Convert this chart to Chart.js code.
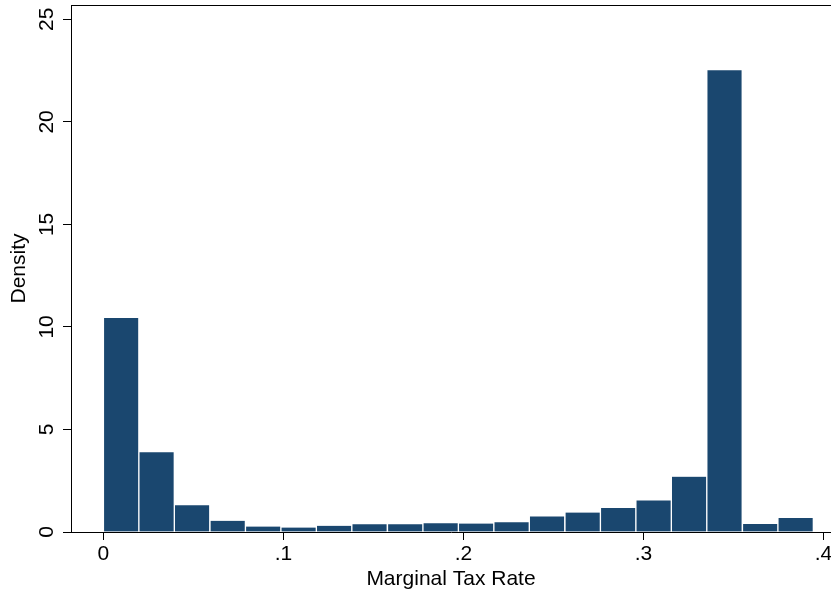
<!DOCTYPE html>
<html>
<head>
<meta charset="utf-8">
<script src="https://cdn.jsdelivr.net/npm/chart.js@4"></script>
<style>
    html, body { margin: 0; padding: 0; background: #fff; }
    #wrap { width: 831px; height: 592px; position: relative; }
</style>
</head>
<body>
<div id="wrap"><canvas id="histChart"></canvas></div>
<script>
// histogram bins: lower edge of each bin (bin width ~0.0197)
const binEdges = [0, 0.0197, 0.0394, 0.0592, 0.0789, 0.0986, 0.1183, 0.1380, 0.1578, 0.1775,
                  0.1972, 0.2169, 0.2366, 0.2564, 0.2761, 0.2958, 0.3155, 0.3352, 0.3550, 0.3747];
const binWidth = 0.0197;
const density = [10.43, 3.89, 1.30, 0.55, 0.27, 0.22, 0.30, 0.38, 0.38, 0.43,
                 0.41, 0.47, 0.76, 0.95, 1.17, 1.54, 2.70, 22.52, 0.39, 0.68];
const xTicks = [0, 0.1, 0.2, 0.3, 0.4];
const xTickLabels = ['0', '.1', '.2', '.3', '.4'];
const yTicks = [0, 5, 10, 15, 20, 25];

const FONT = "'Liberation Sans', Arial, Helvetica, sans-serif";
const FONT_SIZE = 21;
const NAVY = '#1a476f';

// y tick labels are drawn rotated, like Stata does
const rotatedYLabels = {
    id: 'rotatedYLabels',
    afterDraw(chart) {
        const ctx = chart.ctx;
        const y = chart.scales.y;
        const area = chart.chartArea;
        ctx.save();
        // top frame line of the plot region
        ctx.strokeStyle = '#000';
        ctx.lineWidth = 1;
        ctx.beginPath();
        ctx.moveTo(area.left, area.top + 0.5);
        ctx.lineTo(area.right, area.top + 0.5);
        ctx.stroke();

        ctx.font = FONT_SIZE + 'px ' + FONT;
        ctx.fillStyle = '#000';
        ctx.textAlign = 'center';
        ctx.textBaseline = 'alphabetic';
        y.ticks.forEach(t => {
            const py = y.getPixelForValue(t.value);
            ctx.save();
            ctx.translate(y.right - 18, py);
            ctx.rotate(-Math.PI / 2);
            ctx.fillText(t.label, 0, 0);
            ctx.restore();
        });
        ctx.restore();
    }
};

const ctx = document.getElementById('histChart').getContext('2d');

new Chart(ctx, {
    type: 'bar',
    data: {
        datasets: [{
            label: 'Density',
            data: density.map((d, i) => ({ x: binEdges[i] + binWidth / 2, y: d })),
            backgroundColor: NAVY,
            borderColor: '#ffffff',
            borderWidth: { left: 1, right: 1, top: 0, bottom: 0 },
            borderSkipped: false,
            barPercentage: 1,
            categoryPercentage: 1,
            grouped: false
        }]
    },
    options: {
        responsive: true,
        maintainAspectRatio: false,
        animation: false,
        layout: { padding: { top: 5, right: 0, left: 0, bottom: 0 } },
        plugins: {
            legend: { display: false },
            tooltip: { enabled: false }
        },
        scales: {
            x: {
                type: 'linear',
                min: -0.018,
                max: 0.4042,
                offset: false,
                afterBuildTicks(scale) {
                    scale.ticks = xTicks.map(v => ({ value: v }));
                },
                afterFit(scale) {
                    scale.height = 60;
                    scale.paddingLeft = 0;
                    scale.paddingRight = 0;
                },
                grid: {
                    display: true,
                    offset: false,
                    drawOnChartArea: false,
                    drawTicks: true,
                    tickLength: 8,
                    color: '#000',
                    lineWidth: 1
                },
                border: { display: true, color: '#000', width: 1 },
                ticks: {
                    autoSkip: false,
                    maxRotation: 0,
                    padding: 2,
                    color: '#000',
                    font: { family: FONT, size: FONT_SIZE },
                    callback: (v) => {
                        const i = xTicks.indexOf(v);
                        return i >= 0 ? xTickLabels[i] : '';
                    }
                },
                title: {
                    display: true,
                    text: 'Marginal Tax Rate',
                    color: '#000',
                    font: { family: FONT, size: FONT_SIZE },
                    padding: { top: 0, bottom: 0 }
                }
            },
            y: {
                min: 0,
                max: 25.7,
                afterBuildTicks(scale) {
                    scale.ticks = yTicks.map(v => ({ value: v }));
                },
                afterFit(scale) {
                    scale.width = 71;
                    scale.paddingTop = 0;
                    scale.paddingBottom = 0;
                },
                grid: {
                    display: true,
                    drawOnChartArea: false,
                    drawTicks: true,
                    tickLength: 8,
                    color: '#000',
                    lineWidth: 1
                },
                border: { display: true, color: '#000', width: 1 },
                ticks: {
                    color: 'rgba(0,0,0,0)',
                    font: { family: FONT, size: FONT_SIZE }
                },
                title: {
                    display: true,
                    text: 'Density',
                    color: '#000',
                    font: { family: FONT, size: FONT_SIZE },
                    padding: { top: 7, bottom: 0 }
                }
            }
        }
    },
    plugins: [rotatedYLabels]
});
</script>
</body>
</html>
